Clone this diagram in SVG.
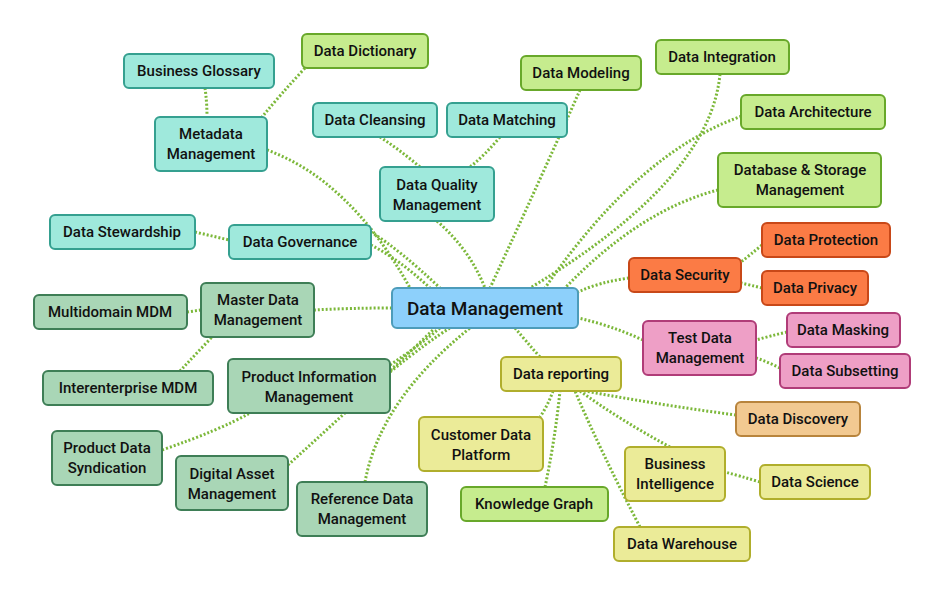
<svg xmlns="http://www.w3.org/2000/svg" width="945" height="596" viewBox="0 0 945 596">
<style>
text{font-family:Roboto,"Liberation Sans",sans-serif;font-weight:500;font-size:15px;fill:#111;text-anchor:middle;dominant-baseline:central}
rect{stroke-width:2;rx:5}
.c path{fill:none;stroke:#7cb83a;stroke-width:3;stroke-dasharray:2 2}
.teal{fill:#9fe9dc;stroke:#35a090}
.lg{fill:#c6ec8e;stroke:#68a82a}
.or{fill:#fb7b45;stroke:#c84818}
.pk{fill:#ee9fc6;stroke:#b03c78}
.dg{fill:#a9d6b6;stroke:#3e7e56}
.ye{fill:#ebeb98;stroke:#b0ae2c}
.tn{fill:#f2c991;stroke:#b8843c}
.ce{fill:#8dd0fb;stroke:#4d9cba}
</style>
<rect width="945" height="596" fill="#fff" style="stroke:none"/>
<g class="c" id="connectors">
<path d="M267,150 Q350,180 410,288"/>
<path d="M437,221 Q470,250 485,288"/>
<path d="M580,90 Q540,180 490,288"/>
<path d="M720,74 Q710,180 530,288"/>
<path d="M745,115 Q640,150 545,288"/>
<path d="M718,190 Q640,210 565,288"/>
<path d="M629,278 Q600,282 578,292"/>
<path d="M643,340 Q610,325 578,318"/>
<path d="M540,357 Q525,340 515,328"/>
<path d="M371,245 Q400,260 430,288"/>
<path d="M371,232 Q400,250 440,288"/>
<path d="M195,232 Q212,236 229,240"/>
<path d="M314,310 Q350,308 392,308"/>
<path d="M390,365 Q420,345 440,328"/>
<path d="M390,372 Q430,340 450,328"/>
<path d="M162,450 Q220,430 250,413"/>
<path d="M288,465 Q360,400 435,328"/>
<path d="M365,482 Q380,400 470,328"/>
<path d="M187,312 L201,310"/>
<path d="M180,371 Q195,355 212,337"/>
<path d="M205,88 Q207,102 207,117"/>
<path d="M305,68 Q280,95 262,117"/>
<path d="M380,137 Q400,150 420,167"/>
<path d="M500,137 Q485,155 470,167"/>
<path d="M762,245 Q750,255 741,262"/>
<path d="M762,288 Q750,285 741,283"/>
<path d="M787,332 Q770,336 756,340"/>
<path d="M780,368 Q768,362 756,358"/>
<path d="M736,415 Q660,405 585,391"/>
<path d="M553,391 Q548,405 540,417"/>
<path d="M545,487 Q555,440 560,391"/>
<path d="M670,447 Q620,420 580,391"/>
<path d="M640,527 Q600,450 575,391"/>
<path d="M760,482 Q740,476 725,472"/>
</g>
<g id="n0"><rect class="ce" x="392" y="288" width="186" height="40"/><text x="485" y="308" style="font-size:19px">Data Management</text></g>
<g id="n1"><rect class="teal" x="124" y="54" width="150" height="34"/><text x="199" y="71">Business Glossary</text></g>
<g id="n2"><rect class="lg" x="302" y="34" width="126" height="34"/><text x="365" y="51">Data Dictionary</text></g>
<g id="n3"><rect class="teal" x="155" y="117" width="112" height="54"/><text x="211" y="134">Metadata</text><text x="211" y="154">Management</text></g>
<g id="n4"><rect class="teal" x="313" y="103" width="124" height="34"/><text x="375" y="120">Data Cleansing</text></g>
<g id="n5"><rect class="teal" x="447" y="103" width="120" height="34"/><text x="507" y="120">Data Matching</text></g>
<g id="n6"><rect class="lg" x="521" y="56" width="120" height="34"/><text x="581" y="73">Data Modeling</text></g>
<g id="n7"><rect class="lg" x="656" y="40" width="133" height="34"/><text x="722" y="57">Data Integration</text></g>
<g id="n8"><rect class="lg" x="741" y="95" width="144" height="34"/><text x="813" y="112">Data Architecture</text></g>
<g id="n9"><rect class="lg" x="718" y="153" width="163" height="54"/><text x="800" y="170">Database &amp; Storage</text><text x="800" y="190">Management</text></g>
<g id="n10"><rect class="teal" x="380" y="167" width="114" height="54"/><text x="437" y="185">Data Quality</text><text x="437" y="205">Management</text></g>
<g id="n11"><rect class="teal" x="50" y="215" width="145" height="34"/><text x="122" y="232">Data Stewardship</text></g>
<g id="n12"><rect class="teal" x="229" y="225" width="142" height="34"/><text x="300" y="242">Data Governance</text></g>
<g id="n13"><rect class="or" x="762" y="223" width="128" height="34"/><text x="826" y="240">Data Protection</text></g>
<g id="n14"><rect class="or" x="629" y="258" width="112" height="34"/><text x="685" y="275">Data Security</text></g>
<g id="n15"><rect class="or" x="762" y="271" width="106" height="34"/><text x="815" y="288">Data Privacy</text></g>
<g id="n16"><rect class="dg" x="34" y="295" width="153" height="34"/><text x="110" y="312">Multidomain MDM</text></g>
<g id="n17"><rect class="dg" x="201" y="283" width="113" height="54"/><text x="258" y="300">Master Data</text><text x="258" y="320">Management</text></g>
<g id="n18"><rect class="pk" x="643" y="321" width="113" height="54"/><text x="700" y="338">Test Data</text><text x="700" y="358">Management</text></g>
<g id="n19"><rect class="pk" x="787" y="313" width="113" height="34"/><text x="843" y="330">Data Masking</text></g>
<g id="n20"><rect class="pk" x="780" y="354" width="130" height="34"/><text x="845" y="371">Data Subsetting</text></g>
<g id="n21"><rect class="dg" x="43" y="371" width="170" height="34"/><text x="128" y="388">Interenterprise MDM</text></g>
<g id="n22"><rect class="dg" x="228" y="359" width="162" height="54"/><text x="309" y="377">Product Information</text><text x="309" y="397">Management</text></g>
<g id="n23"><rect class="ye" x="501" y="357" width="120" height="34"/><text x="561" y="374">Data reporting</text></g>
<g id="n24"><rect class="tn" x="736" y="402" width="124" height="34"/><text x="798" y="419">Data Discovery</text></g>
<g id="n25"><rect class="dg" x="52" y="431" width="110" height="54"/><text x="107" y="448">Product Data</text><text x="107" y="468">Syndication</text></g>
<g id="n26"><rect class="ye" x="419" y="417" width="124" height="54"/><text x="481" y="435">Customer Data</text><text x="481" y="455">Platform</text></g>
<g id="n27"><rect class="dg" x="176" y="456" width="112" height="54"/><text x="232" y="474">Digital Asset</text><text x="232" y="494">Management</text></g>
<g id="n28"><rect class="ye" x="625" y="447" width="100" height="54"/><text x="675" y="464">Business</text><text x="675" y="484">Intelligence</text></g>
<g id="n29"><rect class="ye" x="760" y="465" width="110" height="34"/><text x="815" y="482">Data Science</text></g>
<g id="n30"><rect class="dg" x="297" y="482" width="130" height="54"/><text x="362" y="499">Reference Data</text><text x="362" y="519">Management</text></g>
<g id="n31"><rect class="lg" x="461" y="487" width="147" height="34"/><text x="534" y="504">Knowledge Graph</text></g>
<g id="n32"><rect class="ye" x="614" y="527" width="136" height="34"/><text x="682" y="544">Data Warehouse</text></g>
</svg>
